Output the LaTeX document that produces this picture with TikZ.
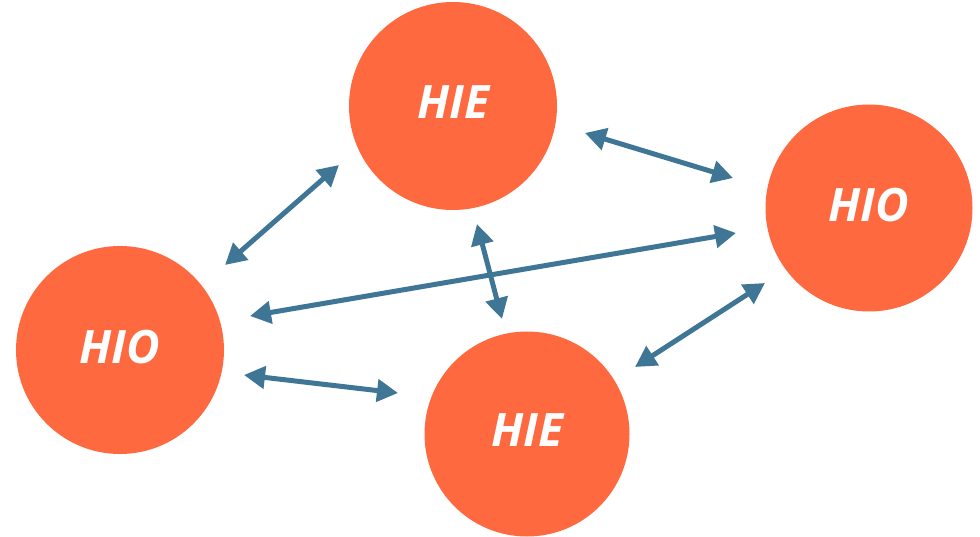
\documentclass[tikz,border=0pt]{standalone}
\usepackage{fontspec}
\setsansfont{Open Sans}
\usetikzlibrary{arrows.meta}
\definecolor{hub}{HTML}{FF6940}
\definecolor{link}{HTML}{3F7595}
\tikzset{
  hubnode/.style={circle, fill=hub, draw=none, minimum size=#1, inner sep=0pt,
    text=white, text depth=7pt,
    font=\fontsize{46}{46}\selectfont\sffamily\bfseries\itshape},
  linkarrow/.style={draw=link, line width=5pt,
    {Triangle[length=21pt,width=22pt]}-{Triangle[length=21pt,width=22pt]}}
}
\begin{document}
\begin{tikzpicture}[x=1pt,y=-1pt]
\useasboundingbox (0,0) rectangle (980,537);
\node[hubnode=208pt] (hieT) at (453,106) {HIE};
\node[hubnode=207pt] (hioR) at (869,208) {HIO};
\node[hubnode=208pt] (hioL) at (120,350) {HIO};
\node[hubnode=205pt] (hieB) at (527,434) {HIE};
% arrow end points
\coordinate (a1s) at (339,165); \coordinate (a1e) at (225,265);
\coordinate (a2s) at (585,133); \coordinate (a2e) at (733,178);
\coordinate (a3s) at (250,316); \coordinate (a3e) at (736,233);
\coordinate (a4s) at (477,224); \coordinate (a4e) at (502,319);
\coordinate (a5s) at (244,375); \coordinate (a5e) at (398,393);
\coordinate (a6s) at (765,283); \coordinate (a6e) at (635,367);
\draw[linkarrow] (a1s) -- (a1e);
\draw[linkarrow] (a2s) -- (a2e);
\draw[linkarrow] (a3s) -- (a3e);
\draw[linkarrow] (a4s) -- (a4e);
\draw[linkarrow] (a5s) -- (a5e);
\draw[linkarrow] (a6s) -- (a6e);
\end{tikzpicture}
\end{document}
